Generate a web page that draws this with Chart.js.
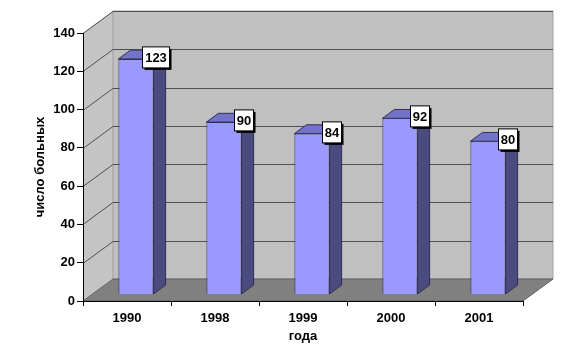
<!DOCTYPE html>
<html>
<head>
<meta charset="utf-8">
<script src="https://cdn.jsdelivr.net/npm/chart.js@4/dist/chart.umd.min.js"></script>
<style>
  html, body { margin: 0; padding: 0; background: #fff; }
  canvas { display: block; }
</style>
</head>
<body>
<canvas id="chart" width="582" height="362"></canvas>
<script>
const categories = ["1990", "1998", "1999", "2000", "2001"];
const patients = [123, 90, 84, 92, 80];
const yMin = 0;
const yMax = 140;
const yStep = 20;

// depth of the 3D box (pixels) and where bars sit inside it
const DX = 30, DY = -22;
const BAR_FRONT = 0.3, BAR_BACK = 0.7;
const FONT = "'Liberation Sans', Arial, sans-serif";

function poly(ctx, pts, fill, stroke) {
  ctx.beginPath();
  ctx.moveTo(pts[0][0], pts[0][1]);
  for (let i = 1; i < pts.length; i++) ctx.lineTo(pts[i][0], pts[i][1]);
  ctx.closePath();
  if (fill) { ctx.fillStyle = fill; ctx.fill(); }
  if (stroke) { ctx.strokeStyle = stroke; ctx.lineWidth = 1; ctx.stroke(); }
}

const box3d = {
  id: "box3d",
  beforeDraw(chart) {
    const { ctx, chartArea: a, scales: { y } } = chart;
    const y0 = y.getPixelForValue(y.min);
    const yt = y.getPixelForValue(y.max);
    ctx.save();
    // left wall
    poly(ctx, [[a.left, y0], [a.left, yt], [a.left + DX, yt + DY], [a.left + DX, y0 + DY]], "#c4c4c4");
    // back wall
    poly(ctx, [[a.left + DX, yt + DY], [a.right + DX, yt + DY], [a.right + DX, y0 + DY], [a.left + DX, y0 + DY]], "#c0c0c0", "#a0a0a0");
    // grid lines on both walls
    ctx.strokeStyle = "#505050";
    ctx.lineWidth = 1;
    y.ticks.forEach((t) => {
      if (t.value === y.min) return;
      const py = Math.round(y.getPixelForValue(t.value)) + 0.5;
      ctx.beginPath();
      ctx.moveTo(a.left, py);
      ctx.lineTo(a.left + DX, py + DY);
      ctx.lineTo(a.right + DX, py + DY);
      ctx.stroke();
    });
    // floor
    poly(ctx, [[a.left, y0], [a.right, y0], [a.right + DX, y0 + DY], [a.left + DX, y0 + DY]], "#808080", "#606060");
    ctx.restore();
  },
  beforeDatasetsDraw(chart) {
    chart.ctx.save();
    chart.ctx.translate(DX * BAR_FRONT, DY * BAR_FRONT);
  },
  afterDatasetsDraw(chart) {
    const ctx = chart.ctx;
    const meta = chart.getDatasetMeta(0);
    const bdx = DX * (BAR_BACK - BAR_FRONT);
    const bdy = DY * (BAR_BACK - BAR_FRONT);
    meta.data.forEach((bar) => {
      const { x, y, base, width } = bar.getProps(["x", "y", "base", "width"], true);
      const l = x - width / 2, r = x + width / 2;
      poly(ctx, [[l, y], [r, y], [r + bdx, y + bdy], [l + bdx, y + bdy]], "#7373cc", "#303050");
      poly(ctx, [[r, y], [r + bdx, y + bdy], [r + bdx, base + bdy], [r, base]], "#4b4b80", "#303050");
    });
    // value labels
    ctx.font = "bold 13px " + FONT;
    ctx.textAlign = "center";
    ctx.textBaseline = "middle";
    meta.data.forEach((bar, i) => {
      const { x, y, width } = bar.getProps(["x", "y", "width"], true);
      const txt = String(patients[i]);
      const w = Math.round(ctx.measureText(txt).width + 5);
      const h = 21;
      const cx = x + width / 2 + 2;
      const cy = y - 2;
      const bx = Math.round(cx - w / 2) + 0.5, by = Math.round(cy - h / 2) + 0.5;
      ctx.fillStyle = "#000";
      ctx.fillRect(bx + 2, by + 2, w, h);
      ctx.fillStyle = "#fff";
      ctx.fillRect(bx, by, w, h);
      ctx.strokeStyle = "#000";
      ctx.lineWidth = 1;
      ctx.strokeRect(bx, by, w, h);
      ctx.fillStyle = "#000";
      ctx.fillText(txt, bx + w / 2, by + h / 2 + 1);
    });
    ctx.restore();
  }
};

new Chart(document.getElementById("chart"), {
  type: "bar",
  data: {
    labels: categories,
    datasets: [{
      data: patients,
      backgroundColor: "#9999ff",
      borderColor: "#303050",
      borderWidth: 1,
      categoryPercentage: 1,
      barPercentage: 0.4
    }]
  },
  options: {
    responsive: false,
    animation: false,
    layout: { padding: { top: 33, right: 59, left: 0, bottom: 0 } },
    plugins: { legend: { display: false }, tooltip: { enabled: false } },
    scales: {
      x: {
        afterFit(scale) { scale.height = 61; },
        grid: { drawOnChartArea: false, tickLength: 5, color: "#000" },
        border: { color: "#000" },
        ticks: { color: "#000", padding: 5, font: { family: FONT, size: 13, weight: "bold" } },
        title: {
          display: true, text: "года", color: "#000",
          padding: { top: 0, bottom: 18 },
          font: { family: FONT, size: 13, weight: "bold" }
        }
      },
      y: {
        min: yMin,
        max: yMax,
        afterFit(scale) { scale.width = 83; },
        grid: { drawOnChartArea: false, tickLength: 6, color: "#000" },
        border: { color: "#000" },
        ticks: { stepSize: yStep, color: "#000", padding: 2, font: { family: FONT, size: 13, weight: "bold" } },
        title: {
          display: true, text: "число больных", color: "#000",
          padding: { top: 33, bottom: 0 },
          font: { family: FONT, size: 13, weight: "bold" }
        }
      }
    }
  },
  plugins: [box3d]
});
</script>
</body>
</html>
